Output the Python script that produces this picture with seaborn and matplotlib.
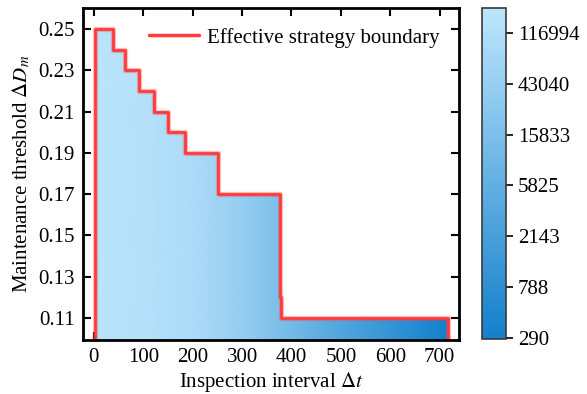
import numpy as np
import pandas as pd
import matplotlib
matplotlib.use("Agg")
import matplotlib.pyplot as plt
import seaborn as sns
from matplotlib.colors import LinearSegmentedColormap, LogNorm

# boundary of the effective strategy region (steps-post)
dt = [2, 38, 64, 92, 122, 150, 184, 252, 376, 378, 716]
dm = [0.25, 0.24, 0.23, 0.22, 0.21, 0.20, 0.19, 0.17, 0.12, 0.11, 0.11]

# colour value of the shaded region along the inspection interval
grad_dt = [0, 102, 205, 307, 409, 511, 614, 716]
grad_val = [165000, 140000, 95000, 38000, 10000, 2800, 900, 290]

cbar_ticks = [290, 788, 2143, 5825, 15833, 43040, 116994]
yticks = [0.11, 0.13, 0.15, 0.17, 0.19, 0.21, 0.23, 0.25]
xticks = [0, 100, 200, 300, 400, 500, 600, 700]

sns.set_theme(style="ticks")
plt.rcParams['font.family'] = ['Liberation Serif', 'DejaVu Serif']
plt.rcParams['mathtext.fontset'] = 'stix'
plt.rcParams['text.color'] = 'black'
plt.rcParams['axes.labelcolor'] = 'black'

y0, y1 = 0.0993, 0.2602
cmap = LinearSegmentedColormap.from_list('blues', ['#1380cc', '#bde6fd'])
norm = LogNorm(vmin=285, vmax=190000)

fig = plt.figure(figsize=(5.87, 3.94), dpi=100)
ax = fig.add_axes([0.1414, 0.137, 0.6405, 0.843])
cax = fig.add_axes([0.821, 0.1396, 0.041, 0.84])

# gradient fill, clipped to the region under the boundary
gx, gy = np.meshgrid(grad_dt, [y0, y1])
gc = np.vstack([grad_val, grad_val])
mesh = ax.pcolormesh(gx, gy, gc, cmap=cmap, norm=norm, shading='gouraud')
poly = ax.fill_between(dt, dm, y0, step='post', facecolor='none',
                       edgecolor='none')
mesh.set_clip_path(poly.get_paths()[0], transform=ax.transData)

line_df = pd.DataFrame({'dt': [dt[0]] + dt + [dt[-1]],
                        'dm': [y0] + dm + [y0]})
# soft halo under the boundary line
ax.plot(line_df['dt'], line_df['dm'], drawstyle='steps-post',
        color='#ff4040', alpha=0.35, lw=3.8)
sns.lineplot(data=line_df, x='dt', y='dm', ax=ax, sort=False, estimator=None,
             drawstyle='steps-post', color='#ff3b3b', lw=2.0,
             label='Effective strategy boundary')

ax.set_xlim(-22, 739)
ax.set_ylim(y0, y1)
ax.set_xticks(xticks)
ax.set_yticks(yticks)
ax.set_yticklabels([f'{v:.2f}' for v in yticks])
ax.tick_params(direction='in', top=True, right=True, length=6, width=1.5,
               labelsize=15, colors='black', pad=6)
for s in ax.spines.values():
    s.set_linewidth(2)
    s.set_color('black')
ax.set_xlabel(r'Inspection interval $\Delta t$', fontsize=15, labelpad=2)
ax.set_ylabel(r'Maintenance threshold $\Delta D_m$', fontsize=15, labelpad=4)
leg = ax.legend(loc='upper right', frameon=False, fontsize=15, handlelength=2.4,
                borderaxespad=0.75, handletextpad=0.35, borderpad=0.2)
for h in leg.get_lines():
    h.set_linewidth(2.5)

sm = plt.cm.ScalarMappable(norm=norm, cmap=cmap)
cb = fig.colorbar(sm, cax=cax)
cb.set_ticks(cbar_ticks)
cb.set_ticklabels([str(v) for v in cbar_ticks])
cb.ax.minorticks_off()
cb.ax.tick_params(length=5, width=1.2, labelsize=15, colors='black')
cb.outline.set_edgecolor('#3a3a3a')
cb.outline.set_linewidth(1.2)

fig.savefig('out.png', dpi=100)
